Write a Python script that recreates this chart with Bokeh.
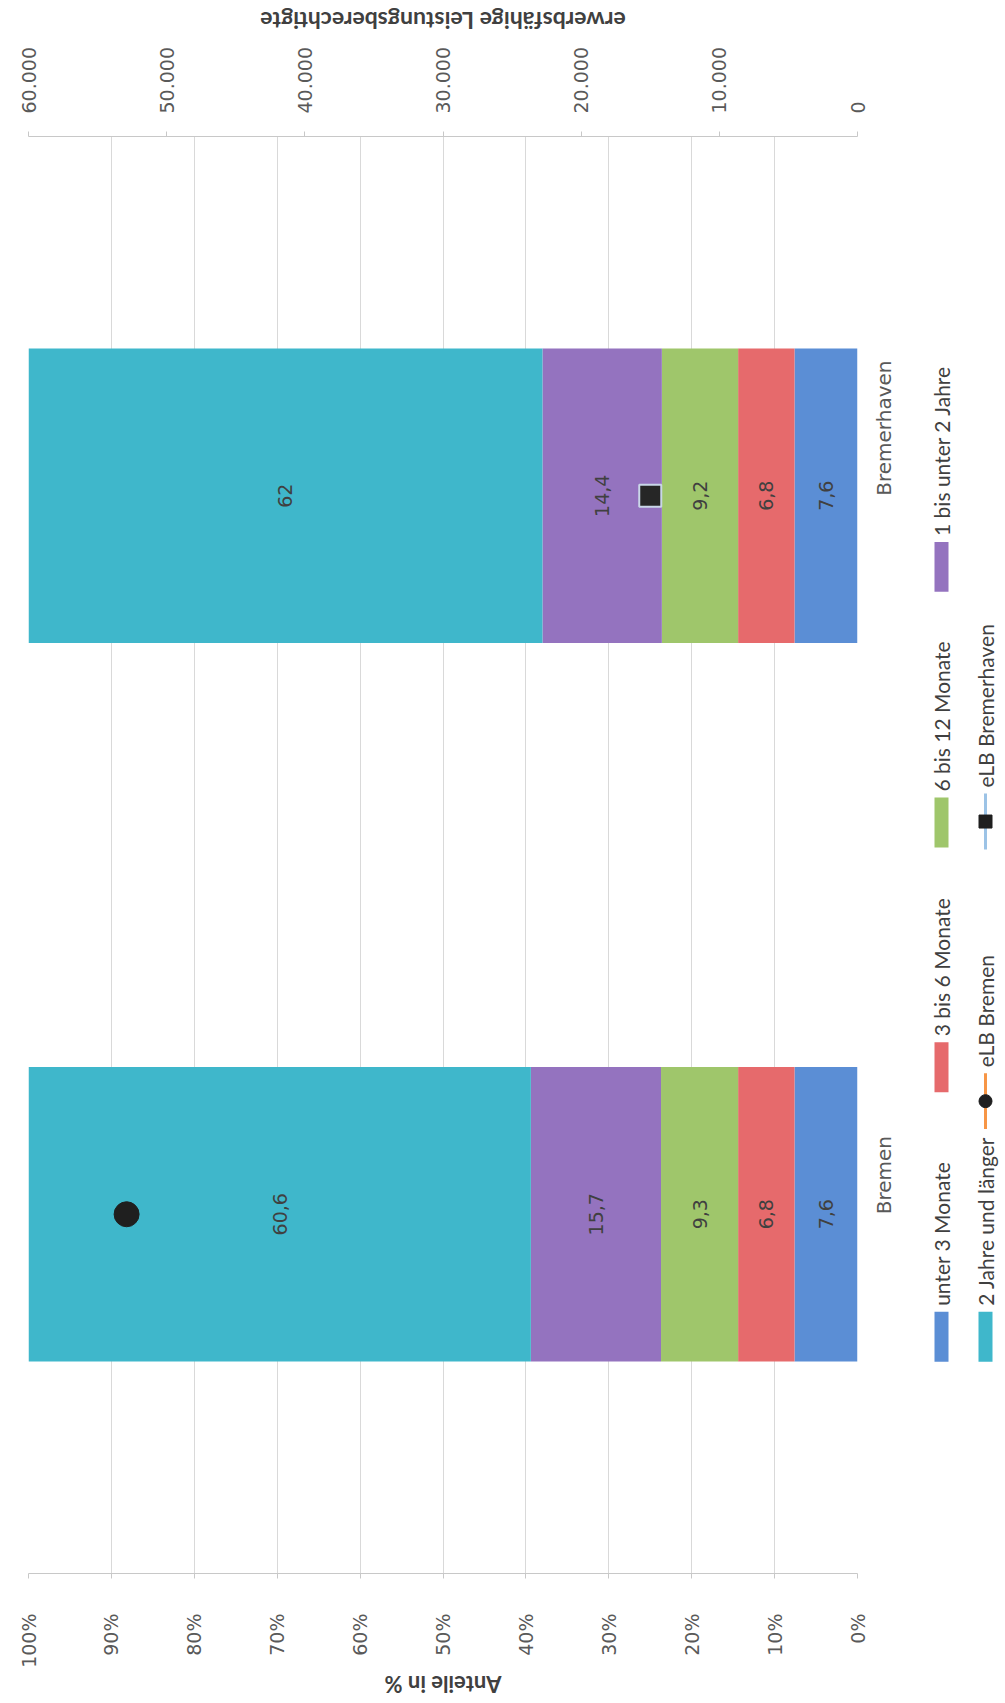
import math
from bokeh.plotting import figure
from bokeh.models import (Range1d, FactorRange, LinearAxis, FixedTicker,
                          CustomJSTickFormatter, ColumnDataSource)
from bokeh.layouts import row, column
from bokeh.embed import file_html
from bokeh.resources import INLINE
from bokeh.core.properties import value

# ---------------- data ----------------
categories = ["Bremen", "Bremerhaven"]
series_names = ["unter 3 Monate", "3 bis 6 Monate", "6 bis 12 Monate",
                "1 bis unter 2 Jahre", "2 Jahre und länger"]
unter_3_monate = [7.6, 7.6]
drei_bis_6_monate = [6.8, 6.8]
sechs_bis_12_monate = [9.3, 9.2]
ein_bis_2_jahre = [15.7, 14.4]
zwei_jahre_plus = [60.6, 62.0]
elb_bremen = [52900]        # erwerbsfähige Leistungsberechtigte, Bremen
elb_bremerhaven = [15000]   # erwerbsfähige Leistungsberechtigte, Bremerhaven
pct_ticks = [0, 10, 20, 30, 40, 50, 60, 70, 80, 90, 100]
elb_ticks = [0, 10000, 20000, 30000, 40000, 50000, 60000]
pct_title = "Anteile in %"
elb_title = "erwerbsfähige Leistungsberechtigte"

series_values = [unter_3_monate, drei_bis_6_monate, sechs_bis_12_monate,
                 ein_bis_2_jahre, zwei_jahre_plus]
colors = ["#5b8ed5", "#e66a6c", "#9fc66b", "#9473bf", "#3fb7cb"]

TICK_FONT = "DejaVu Sans"
TITLE_FONT = "Lato"
GRAY = "#595959"

# page geometry
W_MAIN = 915
W_PAGE = 1005
H_PAGE = 1703
TOP_STRIP = 36                 # strip holding the upper axis title
BOTTOM_STRIP_TOP = 1670        # strip holding the lower axis title
FRAME_TOP = 136
FRAME_BOTTOM = 1575
BORDER_L, BORDER_R = 28, W_MAIN - 857
H_MAIN = BOTTOM_STRIP_TOP - TOP_STRIP
B_TOP = FRAME_TOP - TOP_STRIP
B_BOTTOM = BOTTOM_STRIP_TOP - FRAME_BOTTOM

p = figure(width=W_MAIN, height=H_MAIN,
           x_range=Range1d(100, 0),
           y_range=FactorRange(*categories),
           x_axis_location="below",
           y_axis_location="right",
           toolbar_location=None, output_backend="svg",
           min_border_left=BORDER_L, min_border_right=BORDER_R,
           min_border_top=B_TOP, min_border_bottom=B_BOTTOM)
p.outline_line_color = None
p.background_fill_color = "white"
p.border_fill_color = "white"
bx = p.below[0]

# stacked horizontal bars
cum = [0.0] * len(categories)
for name, vals, col in zip(series_names, series_values, colors):
    lefts = list(cum)
    rights = [a + b for a, b in zip(cum, vals)]
    mids = [(a + b) / 2 for a, b in zip(lefts, rights)]
    labels = [("%g" % v).replace(".", ",") for v in vals]
    src = ColumnDataSource(dict(y=categories, left=lefts, right=rights,
                                mid=mids, lab=labels))
    p.hbar(y="y", left="left", right="right", height=0.41, source=src,
           fill_color=col, line_color=None)
    p.text(x="mid", y="y", text="lab", source=src, angle=math.pi / 2,
           text_align="center", text_baseline="middle",
           text_font=value(TICK_FONT), text_font_size="19px",
           text_color="#404040")
    cum = rights

# secondary axis (erwerbsfähige Leistungsberechtigte)
p.extra_x_ranges = {"elb": Range1d(60000, 0)}
p.scatter(x=elb_bremen, y=[categories[0]], x_range_name="elb",
          marker="circle", size=25, fill_color="#1f1f1f", line_color="#1f1f1f")
p.scatter(x=elb_bremerhaven, y=[categories[1]], x_range_name="elb",
          marker="square", size=22, fill_color="#262626", line_color="#c9d6e8",
          line_width=2)

top_axis = LinearAxis(x_range_name="elb", ticker=FixedTicker(ticks=elb_ticks),
                      formatter=CustomJSTickFormatter(code="""
                        return Math.round(tick).toString().replace(/\\B(?=(\\d{3})+(?!\\d))/g, '.');
                      """))
p.add_layout(top_axis, "above")

# bottom axis
bx.ticker = FixedTicker(ticks=pct_ticks)
bx.formatter = CustomJSTickFormatter(code="return tick + '%';")

for ax, standoff in ((bx, 35), (top_axis, 18)):
    ax.major_label_orientation = math.pi / 2
    ax.major_label_text_font = TICK_FONT
    ax.major_label_text_font_size = "19px"
    ax.major_label_text_color = GRAY
    ax.major_label_standoff = standoff
    ax.axis_line_color = "#c8c8c8"
    ax.major_tick_line_color = "#c8c8c8"
    ax.major_tick_out = 5
    ax.major_tick_in = 0
    ax.minor_tick_line_color = None

# category axis (right)
cy = p.yaxis[0]
cy.axis_line_color = None
cy.major_tick_line_color = None
cy.minor_tick_line_color = None
cy.major_label_orientation = math.pi / 2
cy.major_label_text_font = TICK_FONT
cy.major_label_text_font_size = "20px"
cy.major_label_text_color = GRAY
cy.major_label_standoff = 20

p.xgrid.grid_line_color = "#d9d9d9"
p.xgrid.grid_line_width = 1
p.xgrid.ticker = FixedTicker(ticks=pct_ticks)
p.ygrid.grid_line_color = None


def strip(height, title, yfrac, size):
    """A thin panel above/below the chart holding an upside-down axis title."""
    s = figure(width=W_MAIN, height=height, x_range=p.x_range,
               y_range=Range1d(0, 1), x_axis_type=None, y_axis_type=None,
               toolbar_location=None, output_backend="svg",
               min_border_left=BORDER_L, min_border_right=BORDER_R,
               min_border_top=0, min_border_bottom=0)
    s.outline_line_color = None
    s.grid.visible = False
    s.text(x=[50], y=[yfrac], text=[title], angle=math.pi,
           text_align="center", text_baseline="middle",
           text_font=value(TITLE_FONT), text_font_style="bold",
           text_font_size=size, text_color="#404040")
    return s


top_strip = strip(TOP_STRIP, elb_title, 1 - 20 / TOP_STRIP, "23px")
bottom_h = H_PAGE - BOTTOM_STRIP_TOP
bottom_strip = strip(bottom_h, pct_title, 1 - (1684 - BOTTOM_STRIP_TOP) / bottom_h, "22px")

# ---------------- legend (rotated, drawn in its own panel) ----------------
# the panel's frame is aligned with the main frame, so its y range spans
# the same page rows as the main frame
leg = figure(width=W_PAGE - W_MAIN, height=H_MAIN,
             x_range=Range1d(W_MAIN, W_PAGE), y_range=Range1d(FRAME_BOTTOM, FRAME_TOP),
             x_axis_type=None, y_axis_type=None,
             toolbar_location=None, output_backend="svg",
             min_border=0, min_border_left=0, min_border_right=0,
             min_border_top=B_TOP, min_border_bottom=B_BOTTOM)
leg.outline_line_color = None
leg.grid.visible = False

LEG_FONT_SIZE = "21px"
# swatch items: (column x, swatch bottom)
box_x = [941, 941, 941, 941, 985]
box_bottom = [1363, 1093, 848, 592, 1363]
for name, col, x0, yb in zip(series_names, colors, box_x, box_bottom):
    leg.quad(left=[x0 - 7], right=[x0 + 7], bottom=[yb], top=[yb - 50],
             fill_color=col, line_color=None)
    leg.text(x=[x0], y=[yb - 56], text=[name], angle=math.pi / 2,
             text_align="left", text_baseline="middle",
             text_font=value(TITLE_FONT), text_font_size=LEG_FONT_SIZE,
             text_color="#404040")

# line + marker items
line_names = ["eLB Bremen", "eLB Bremerhaven"]
line_colors = ["#f79646", "#9cc3e6"]
line_markers = ["circle", "square"]
line_x = [985, 985]
line_bottom = [1130, 850]
for name, col, mk, x0, yb in zip(line_names, line_colors, line_markers, line_x, line_bottom):
    leg.segment(x0=[x0], y0=[yb], x1=[x0], y1=[yb - 56], line_color=col, line_width=3)
    leg.scatter(x=[x0], y=[yb - 28], marker=mk, size=13,
                fill_color="#1f1f1f", line_color="#1f1f1f")
    leg.text(x=[x0], y=[yb - 62], text=[name], angle=math.pi / 2,
             text_align="left", text_baseline="middle",
             text_font=value(TITLE_FONT), text_font_size=LEG_FONT_SIZE,
             text_color="#404040")

layout = column(top_strip, row(p, leg, spacing=0), bottom_strip, spacing=0)
open("out.html", "w").write(file_html(layout, INLINE))
